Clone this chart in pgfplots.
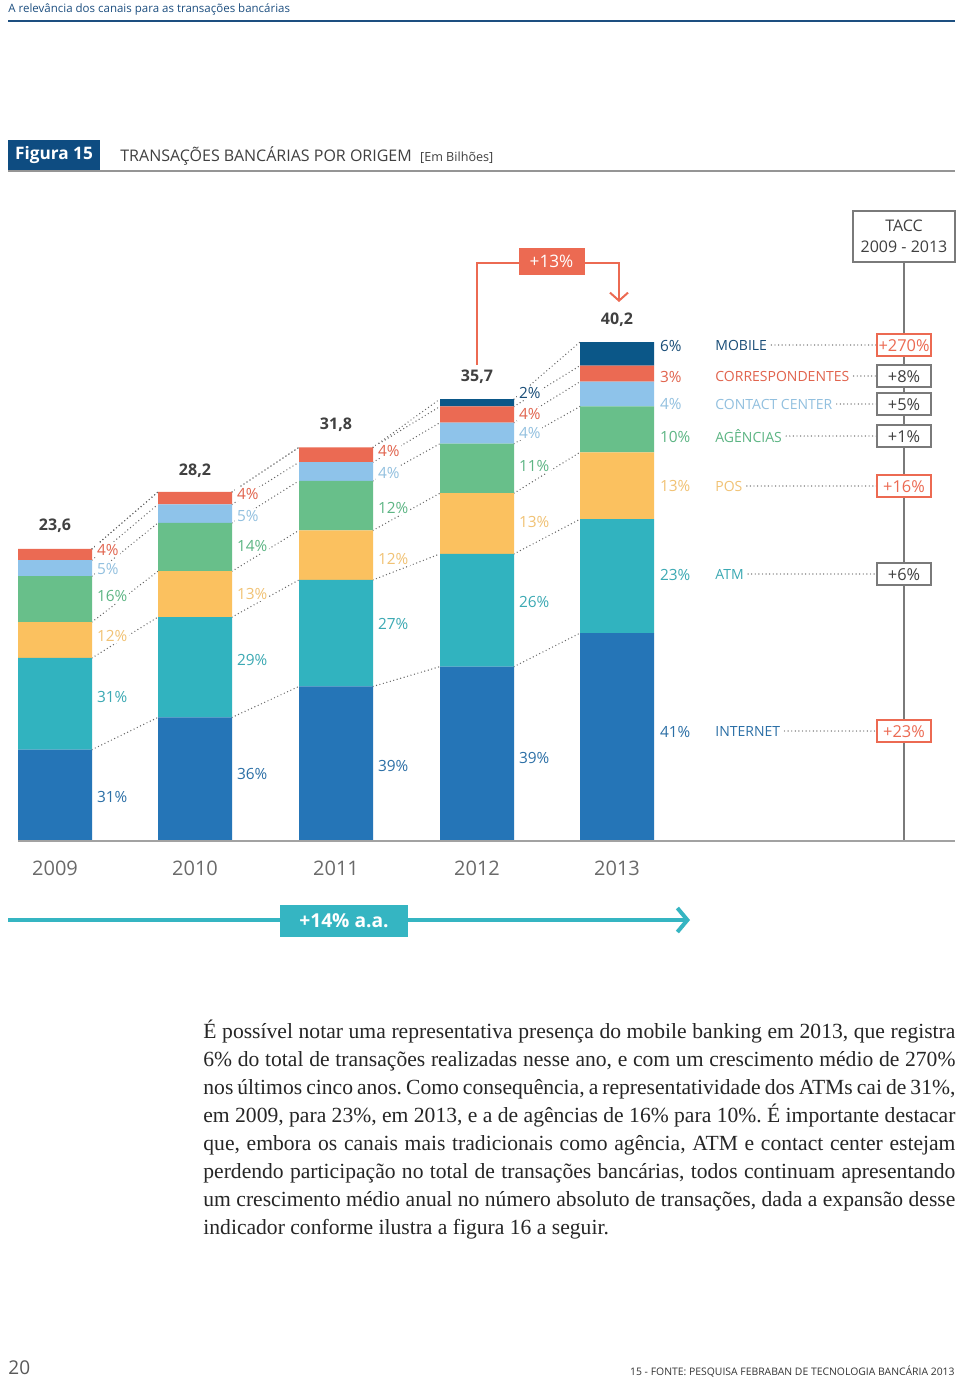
\documentclass[border=0pt]{standalone}
\usepackage{fontspec}
\setmainfont{Liberation Serif}
\newfontfamily\sans{Open Sans}
\usepackage{pgfplots}
\pgfplotsset{compat=1.18}
\usepackage{pgfplotstable}
\usetikzlibrary{arrows.meta}

\definecolor{cInt}{HTML}{2575B7}
\definecolor{cAtm}{HTML}{31B3BF}
\definecolor{cPos}{HTML}{FBC15F}
\definecolor{cAge}{HTML}{68BF8A}
\definecolor{cCc}{HTML}{8EC3EA}
\definecolor{cCor}{HTML}{EB6A53}
\definecolor{cMob}{HTML}{0B5788}
\definecolor{tInt}{HTML}{2B6FA6}
\definecolor{tAtm}{HTML}{3BA9B3}
\definecolor{tPos}{HTML}{F1C274}
\definecolor{tAge}{HTML}{5DB584}
\definecolor{tCc}{HTML}{92C0DF}
\definecolor{tCor}{HTML}{E1644E}
\definecolor{tMob}{HTML}{1A4E78}
\definecolor{hdr}{HTML}{1D4F80}
\definecolor{figb}{HTML}{0E4C81}
\definecolor{txt}{HTML}{404040}
\definecolor{boxg}{HTML}{7A7A7A}
\definecolor{dotg}{HTML}{666666}
\definecolor{redc}{HTML}{EC6A52}
\definecolor{tealc}{HTML}{35B5C2}
\definecolor{yeargray}{HTML}{6A6A6A}

\newcommand\fs[1]{\fontsize{#1}{#1}\selectfont}

% values in billions of transactions (bottom to top)
\pgfplotstableread{
x   int  atm pos age cc  cor mob
55  7.3  7.4 2.9 3.7 1.3 0.9 0
195 9.9  8.1 3.7 3.9 1.5 1.0 0
336 12.4 8.6 4.0 4.0 1.5 1.2 0
477 14.0 9.1 4.9 4.0 1.7 1.3 0.6
617 16.7 9.2 5.4 3.7 2.0 1.3 1.9
}\bars

\pgfplotsset{geo/.style={scale only axis, width=480pt, height=272.5pt,
  xmin=0, xmax=960, ymin=0, ymax=44, hide axis, clip=false,
  at={(0pt,-420pt)}, anchor=south west},
  conn/.style={color=dotg, line width=0.7pt, mark=none, solid, line cap=round, dash pattern=on 0pt off 1.8pt}}

\newcommand\pl[4]{\node[anchor=west, text=#3, fill=white, inner sep=0.8pt, font={\sans\fs{7.7}}] at (#1,#2) {#4\%};}

\begin{document}
\begin{tikzpicture}[x=0.5pt, y=-0.5pt]
\fill[white] (0,0) rectangle (960,1381);

% header
\node[anchor=west, inner sep=0, text=hdr, font={\sans\fs{5.75}}] at (8,9) {A relevância dos canais para as transações bancárias};
\draw[hdr, line width=1pt] (8,21) -- (955,21);

% title
\fill[figb] (8,140) rectangle (100,171);
\node[text=white, font={\sans\bfseries\fs{8.6}}] at (54,155) {Figura 15};
\node[anchor=west, inner sep=0, text=txt, font={\sans\fs{8}}] at (120,155.5) {TRANSAÇÕES BANCÁRIAS POR ORIGEM\ \ {\fs{6.3}[Em Bilhões]}};
\draw[boxg!80, line width=0.6pt] (8,171) -- (955,171);

% connectors
\begin{axis}[geo, unbounded coords=jump]
\addplot[conn] coordinates {(92,7.3) (158,9.9) (200,nan) (232,9.9) (299,12.4) (340,nan) (373,12.4) (440,14.0) (480,nan) (514,14.0) (580,16.7)};
\addplot[conn] coordinates {(92,14.7) (158,18.0) (200,nan) (232,18.0) (299,21.0) (340,nan) (373,21.0) (440,23.1) (480,nan) (514,23.1) (580,25.9)};
\addplot[conn] coordinates {(92,17.6) (158,21.7) (200,nan) (232,21.7) (299,25.0) (340,nan) (373,25.0) (440,28.0) (480,nan) (514,28.0) (580,31.3)};
\addplot[conn] coordinates {(92,21.3) (158,25.6) (200,nan) (232,25.6) (299,29.0) (340,nan) (373,29.0) (440,32.0) (480,nan) (514,32.0) (580,35.0)};
\addplot[conn] coordinates {(92,22.6) (158,27.1) (200,nan) (232,27.1) (299,30.5) (340,nan) (373,30.5) (440,33.7) (480,nan) (514,33.7) (580,37.0)};
\addplot[conn] coordinates {(92,23.5) (158,28.1) (200,nan) (232,28.1) (299,31.7) (340,nan) (373,31.7) (440,35.0) (480,nan) (514,35.0) (580,38.3)};
\addplot[conn] coordinates {(92,23.5) (158,28.1) (200,nan) (232,28.1) (299,31.7) (340,nan) (373,31.7) (440,35.6) (480,nan) (514,35.6) (580,40.2)};
\end{axis}

% stacked bars
\begin{axis}[geo, ybar stacked, bar width=74, bar shift=0pt]
\addplot[fill=cInt, draw=none] table[x=x, y=int] {\bars};
\addplot[fill=cAtm, draw=none] table[x=x, y=atm] {\bars};
\addplot[fill=cPos, draw=none] table[x=x, y=pos] {\bars};
\addplot[fill=cAge, draw=none] table[x=x, y=age] {\bars};
\addplot[fill=cCc, draw=none] table[x=x, y=cc] {\bars};
\addplot[fill=cCor, draw=none] table[x=x, y=cor] {\bars};
\addplot[fill=cMob, draw=none] table[x=x, y=mob] {\bars};
\end{axis}

% baseline
\draw[boxg!70, line width=1pt] (18,841) -- (955,841);

% totals
\begin{scope}[every node/.style={text=txt, font={\sans\bfseries\fs{8}}}]
\node at (55,526) {23,6};
\node at (195,471) {28,2};
\node at (336,425) {31,8};
\node at (477,377) {35,7};
\node at (617,320) {40,2};
\end{scope}

% percentage labels
\pl{95}{550}{tCor}{4}\pl{95}{569}{tCc}{5}\pl{95}{596}{tAge}{16}\pl{95}{636}{tPos}{12}\pl{95}{697}{tAtm}{31}\pl{95}{797}{tInt}{31}
\pl{235}{494}{tCor}{4}\pl{235}{516}{tCc}{5}\pl{235}{546}{tAge}{14}\pl{235}{594}{tPos}{13}\pl{235}{660}{tAtm}{29}\pl{235}{774}{tInt}{36}
\pl{376}{451}{tCor}{4}\pl{376}{473}{tCc}{4}\pl{376}{508}{tAge}{12}\pl{376}{559}{tPos}{12}\pl{376}{624}{tAtm}{27}\pl{376}{766}{tInt}{39}
\pl{517}{393}{tMob}{2}\pl{517}{414}{tCor}{4}\pl{517}{433}{tCc}{4}\pl{517}{466}{tAge}{11}\pl{517}{522}{tPos}{13}\pl{517}{602}{tAtm}{26}\pl{517}{758}{tInt}{39}
\pl{658}{346}{tMob}{6}\pl{658}{377}{tCor}{3}\pl{658}{404}{tCc}{4}\pl{658}{437}{tAge}{10}\pl{658}{486}{tPos}{13}\pl{658}{575}{tAtm}{23}\pl{658}{732}{tInt}{41}

% +13% annotation
\draw[redc, line width=1pt, -{Straight Barb[length=4pt, width=9pt, line width=1pt]}] (477,365) -- (477,262.5) -- (619,262.5) -- (619,302);
\node[fill=redc, text=white, inner sep=0, minimum width=33pt, minimum height=13.5pt, font={\sans\fs{8.6}}] at (551.5,261.5) {+13\%};

% TACC column
\draw[boxg, line width=0.8pt] (904,262) -- (904,840);
\node[draw=boxg, line width=0.7pt, fill=white, text=txt, align=center, inner sep=0, minimum width=51pt, minimum height=25.5pt, font={\sans\fontsize{8}{10.5}\selectfont}] at (904,236.5) {TACC\\2009 - 2013};

\newcommand\leg[6]{%
  \node[anchor=west, inner sep=0, text=#3, font={\sans\fs{7}}] (#1) at (715,#2) {#4};
  \draw[dotg, line width=0.7pt, line cap=round, dash pattern=on 0pt off 1.8pt] ([xshift=2pt]#1.east) -- (877,#2);
  \node[draw=#5, line width=0.7pt, fill=white, text=#6, inner sep=0, minimum width=27pt, minimum height=11pt, font={\sans\fs{8.2}}] at (904,#2) {\strut};
}
\leg{Lm}{345}{tMob}{MOBILE}{redc}{redc}
\leg{Lc}{376}{tCor}{CORRESPONDENTES}{boxg}{txt}
\leg{Lt}{404}{tCc}{CONTACT CENTER}{boxg}{txt}
\leg{La}{436}{tAge}{AGÊNCIAS}{boxg}{txt}
\leg{Lp}{486}{tPos}{POS}{redc}{redc}
\leg{Lat}{574}{tAtm}{ATM}{boxg}{txt}
\leg{Li}{731}{tInt}{INTERNET}{redc}{redc}
\begin{scope}[every node/.style={inner sep=0, font={\sans\fs{8.2}}}]
\node[text=redc] at (904,345.5) {+270\%};
\node[text=txt] at (904,376.5) {+8\%};
\node[text=txt] at (904,404.5) {+5\%};
\node[text=txt] at (904,436.5) {+1\%};
\node[text=redc] at (904,486.5) {+16\%};
\node[text=txt] at (904,574.5) {+6\%};
\node[text=redc] at (904,731.5) {+23\%};
\end{scope}

% years
\begin{scope}[every node/.style={text=yeargray, font={\sans\fs{10}}}]
\node at (55,868) {2009};
\node at (195,868) {2010};
\node at (336,868) {2011};
\node at (477,868) {2012};
\node at (617,868) {2013};
\end{scope}

% +14% a.a.
\draw[tealc, line width=2pt, -{Straight Barb[length=5pt, width=12pt, line width=2pt]}] (8,920) -- (690,920);
\node[fill=tealc, text=white, inner sep=0, minimum width=64pt, minimum height=16pt, font={\sans\bfseries\fs{9.6}}] at (344,921) {+14\% a.a.};

% paragraph
\node[anchor=north west, inner sep=0, text width=376pt, align=justify, text=black!85,
  font={\fontsize{10.8}{14}\selectfont}] at (203,1020) {\frenchspacing\hyphenpenalty=10000 \tolerance=10000
É possível notar uma representativa presença do mobile banking em 2013, que registra\linebreak
6\% do total de transações realizadas nesse ano, e com um crescimento médio de 270\%\linebreak
nos últimos cinco anos. Como consequência, a representatividade dos ATMs cai de 31\%,\linebreak
em 2009, para 23\%, em 2013, e a de agências de 16\% para 10\%. É importante destacar\linebreak
que, embora os canais mais tradicionais como agência, ATM e contact center estejam\linebreak
perdendo participação no total de transações bancárias, todos continuam apresentando\linebreak
um crescimento médio anual no número absoluto de transações, dada a expansão desse\linebreak
indicador conforme ilustra a figura 16 a seguir.};

% footer
\node[anchor=west, inner sep=0, text=black!65, font={\sans\fs{9.5}}] at (8,1368) {20};
\node[anchor=east, inner sep=0, text=black!80, font={\sans\fs{5.2}}] at (955,1372) {15 - FONTE: PESQUISA FEBRABAN DE TECNOLOGIA BANCÁRIA 2013};
\end{tikzpicture}
\end{document}
